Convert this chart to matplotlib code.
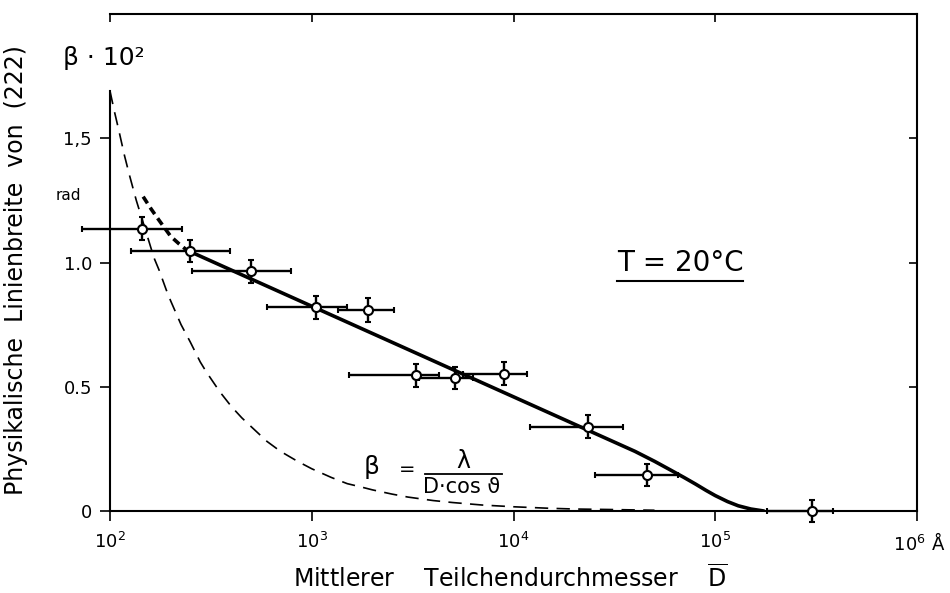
import matplotlib.pyplot as plt
from matplotlib.lines import Line2D

plt.rcParams['font.family'] = ['DejaVu Sans']
plt.rcParams['mathtext.fontset'] = 'dejavusans'

# Measured line widths (222) vs. mean particle diameter
D = [144, 248, 499, 1050, 1900, 3300, 5150, 8950, 23400, 46000, 301000]
beta = [1.136, 1.046, 0.964, 0.820, 0.809, 0.546, 0.535, 0.552, 0.340, 0.145, 0.0]
D_lo = [73, 127, 255, 600, 1355, 1524, 3390, 5650, 12130, 25350, 181500]
D_hi = [227, 394, 788, 1496, 2567, 4266, 6310, 11600, 35000, 65300, 384500]
beta_err = [0.047, 0.045, 0.048, 0.046, 0.050, 0.045, 0.045, 0.046, 0.046, 0.045, 0.046]

# Scherrer curve beta = lambda / (D cos theta)
theo_D = [100, 105, 110, 118, 125, 135, 150, 165, 175, 190, 200, 225, 250, 280,
          300, 350, 400, 450, 500, 600, 700, 850, 1000, 1250, 1500, 1750, 2000,
          2500, 3000, 4000, 5000, 7000, 10000, 15000, 20000, 30000, 50000]
theo_beta = [1.69, 1.61, 1.54, 1.43, 1.35, 1.25, 1.13, 1.02, 0.97, 0.89, 0.845,
             0.75, 0.68, 0.60, 0.56, 0.48, 0.42, 0.375, 0.34, 0.28, 0.24, 0.20,
             0.17, 0.135, 0.11, 0.097, 0.085, 0.068, 0.056, 0.042, 0.034, 0.024,
             0.017, 0.011, 0.008, 0.006, 0.003]

# Drawn trend through the points (dashed where extrapolated)
fit_dash_D = [146, 160, 175, 200, 220, 240]
fit_dash_beta = [1.265, 1.215, 1.17, 1.105, 1.075, 1.05]
fit_D = [240, 40000, 50000, 60000, 70000, 80000, 90000, 100000, 115000,
         130000, 150000, 174000]
fit_beta = [1.05, 0.24, 0.20, 0.165, 0.135, 0.108, 0.083, 0.062, 0.038,
            0.021, 0.008, 0.0]

xticks = [1e2, 1e3, 1e4, 1e5, 1e6]
xticklabels = ['$10^2$', '$10^3$', '$10^4$', '$10^5$', ' $10^6$ Å']
yticks = [0, 0.5, 1.0, 1.5]
yticklabels = ['0', '0.5', '1.0', '1,5']

W, H = 950, 593


def px(x, y):
    return x / W, 1 - y / H


fig = plt.figure(figsize=(9.5, 5.93), dpi=100)
ax = fig.add_axes([110 / W, 1 - 511 / H, 807 / W, 497 / H])
ax.set_xscale('log')
ax.set_xlim(1e2, 1e6)
ax.set_ylim(0, 2.0)

ax.plot(theo_D, theo_beta, color='black', lw=1.2, dashes=(8, 5))
ax.plot(fit_dash_D, fit_dash_beta, color='black', lw=2.6, dashes=(2.2, 1.4))
ax.plot(fit_D, fit_beta, color='black', lw=2.6, solid_capstyle='round',
        solid_joinstyle='round')

xerr = [[d - lo for d, lo in zip(D, D_lo)], [hi - d for d, hi in zip(D, D_hi)]]
eb = ax.errorbar(D, beta, xerr=xerr, yerr=beta_err, fmt='o', color='black',
                 mfc='white', mec='black', mew=1.5, ms=6.5, elinewidth=1.7,
                 capsize=2.5, capthick=1.7, zorder=5)
for artist in eb.get_children():
    artist.set_clip_on(False)

ax.set_xticks(xticks)
ax.set_xticklabels(xticklabels)
ax.minorticks_off()
ax.set_yticks(yticks)
ax.set_yticklabels(yticklabels)
ax.tick_params(axis='both', direction='out', length=7, width=1.2,
               labelsize=13, pad=6)
ax.tick_params(axis='x', pad=8)

ax.spines['left'].set_bounds(0, 1.69)
for side in ['left', 'bottom', 'top', 'right']:
    ax.spines[side].set_linewidth(1.5)
ax.spines['top'].set_visible(False)
ax.spines['right'].set_visible(False)

# inward ticks on the top and right frame
top = ax.secondary_xaxis('top')
top.set_xticks(xticks)
top.tick_params(direction='in', length=6, width=1.2, labeltop=False)
top.minorticks_off()
top.spines['top'].set_linewidth(1.5)
right = ax.secondary_yaxis('right')
right.set_yticks(yticks[1:])
right.tick_params(direction='in', length=6, width=1.2, labelright=False)
right.spines['right'].set_linewidth(1.5)

ax.set_ylabel('Physikalische  Linienbreite  von  (222)', fontsize=17)
ax.yaxis.set_label_coords((28 - 110) / 807, (511 - 270) / 497)

fig.text(*px(510, 578), 'Mittlerer    Teilchendurchmesser    $\\overline{\\mathrm{D}}$',
         fontsize=17, ha='center', va='center')
fig.text(*px(104, 58), 'β · 10²', fontsize=18, ha='center', va='center')
fig.text(*px(68, 195), 'rad', fontsize=11, ha='center', va='center')

fig.text(*px(680, 263), 'T = 20°C', fontsize=20, ha='center', va='center')
fig.add_artist(Line2D([617 / W, 743 / W], [1 - 281 / H, 1 - 281 / H],
                      color='black', lw=1.5, transform=fig.transFigure))

fig.text(*px(372, 467), 'β', fontsize=18, ha='center', va='center')
fig.text(*px(407, 470), '=', fontsize=14, ha='center', va='center')
fig.text(*px(463, 461), 'λ', fontsize=17, ha='center', va='center')
fig.add_artist(Line2D([425 / W, 502 / W], [1 - 474 / H, 1 - 474 / H],
                      color='black', lw=1.3, transform=fig.transFigure))
fig.text(*px(462, 487), 'D·cos ϑ', fontsize=15, ha='center', va='center')

fig.savefig('out.png', dpi=100)
